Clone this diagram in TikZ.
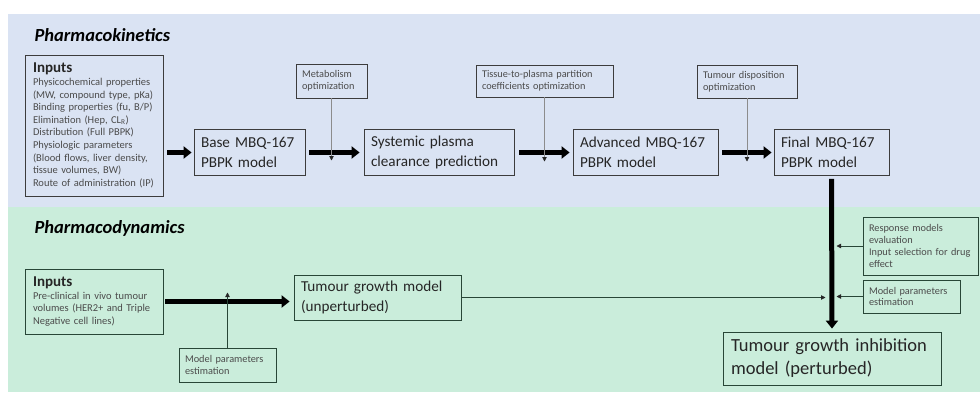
\documentclass[tikz,border=0pt]{standalone}
\usepackage{fontspec}
\setmainfont{Carlito}
\usepackage{tikz}
\usetikzlibrary{arrows.meta}
\usetikzlibrary{positioning}
\definecolor{pkblue}{RGB}{218,227,243}
\definecolor{pdgreen}{RGB}{202,237,219}
\definecolor{pkline}{RGB}{60,60,60}
\definecolor{pdline}{RGB}{40,70,55}
\definecolor{pkthin}{RGB}{140,140,140}
\definecolor{maintext}{RGB}{38,38,38}
\definecolor{subtext}{RGB}{75,75,75}

\begin{document}
\begin{tikzpicture}[x=1pt, y=-1pt,
    box/.style = {draw, line width=0.8pt, align=left, inner xsep=7pt, inner ysep=2pt,
                  text=maintext, font=\fontsize{15.2}{20}\selectfont},
    pkbox/.style = {box, draw=pkline},
    pdbox/.style = {box, draw=pdline},
    notebox/.style = {inner xsep=6pt, text=subtext, font=\fontsize{10.3}{11.8}\selectfont},
    inputbox/.style = {inner xsep=8pt, text=subtext, font=\fontsize{10.5}{12.6}\selectfont},
    title/.style = {anchor=west, text=black, font=\fontsize{18.5}{22}\selectfont\bfseries\itshape},
    bigarrow/.style = {line width=5pt, -{Triangle[length=8pt,width=12pt]}},
    thinarrow/.style = {line width=0.8pt, -{Triangle[length=4.5pt,width=4.5pt,color=black!85]}}]

    \useasboundingbox (0,0) rectangle (980,394);
    \fill[pkblue] (8,14) rectangle (980,207);
    \fill[pdgreen] (8,207) rectangle (980,392);

    % pharmacokinetics
    \node[title] (pktitle) at (31,35) {Pharmacokinetics};
    \node[pkbox, inputbox, text width=122pt, minimum height=141pt] (pkin) at (94,125.5)
        {{\fontsize{15}{18}\selectfont\bfseries\color{maintext}Inputs}\\
         Physicochemical properties\\
         (MW, compound type, pKa)\\
         Binding properties (fu, B/P)\\
         Elimination (Hep, CL\textsubscript{R})\\
         Distribution (Full PBPK)\\
         Physiologic parameters\\
         (Blood flows, liver density,\\
         tissue volumes, BW)\\
         Route of administration (IP)};
    \node[pkbox, text width=97pt, minimum height=46pt] (base) at (249.5,152.5)
        {Base MBQ-167\\PBPK model};
    \node[pkbox, text width=136pt, minimum height=46pt] (sys) at (439,152.5)
        {Systemic plasma\\clearance prediction};
    \node[pkbox, text width=131pt, minimum height=46pt] (adv) at (645.5,152.5)
        {Advanced MBQ-167\\PBPK model};
    \node[pkbox, text width=101pt, minimum height=46pt] (final) at (831.5,152.5)
        {Final MBQ-167\\PBPK model};
    \node[pkbox, notebox, text width=59pt, minimum height=34pt] (metab) at (331.5,81)
        {Metabolism\\optimization};
    \node[pkbox, notebox, text width=125pt, minimum height=32pt] (tissue) at (544.5,81)
        {Tissue-to-plasma partition\\coefficients optimization};
    \node[pkbox, notebox, text width=88pt, minimum height=33pt] (tumdisp) at (747,81.5)
        {Tumour disposition\\optimization};

    \draw[bigarrow, shorten <=4pt, shorten >=2pt] (pkin.east |- base.west) -- (base.west);
    \draw[bigarrow, shorten <=4pt, shorten >=4pt] (base.east) -- (sys.west);
    \draw[bigarrow, shorten <=5pt, shorten >=3pt] (sys.east) -- (adv.west);
    \draw[bigarrow, shorten <=4pt, shorten >=2pt] (adv.east) -- (final.west);
    \draw[thinarrow, pkthin] (metab.south) -- ([yshift=-8pt]metab.south |- base.east);
    \draw[thinarrow, pkthin] (tissue.south) -- ([yshift=-9pt]tissue.south |- adv.west);
    \draw[thinarrow, pkthin] (tumdisp.south) -- ([yshift=-9pt]tumdisp.south |- final.west);

    % pharmacodynamics
    \node[title] (pdtitle) at (31,228) {Pharmacodynamics};
    \node[pdbox, inputbox, text width=122pt, minimum height=65pt] (pdin) at (94,301.5)
        {{\fontsize{15}{18}\selectfont\bfseries\color{maintext}Inputs}\\
         Pre-clinical in vivo tumour\\
         volumes (HER2+ and Triple\\
         Negative cell lines)};
    \node[pdbox, text width=153pt, minimum height=45pt] (tgm) at (377.5,297.5)
        {Tumour growth model\\(unperturbed)};
    \node[pdbox, notebox, text width=85pt, minimum height=34pt] (mpeA) at (227.5,365)
        {Model parameters\\estimation};
    \node[pdbox, notebox, text width=103pt, minimum height=58pt] (resp) at (920.5,246)
        {Response models\\evaluation\\Input selection for drug\\effect};
    \node[pdbox, notebox, text width=85pt, minimum height=33pt] (mpeB) at (911.5,296.5)
        {Model parameters\\estimation};
    \node[pdbox, inner xsep=8pt, text width=202pt, minimum height=53pt, font=\fontsize{18.5}{23}\selectfont] (tgi) at (832,358.5)
        {Tumour growth inhibition\\model (perturbed)};

    \draw[bigarrow, shorten <=2pt, shorten >=4pt] (pdin.east) -- (pdin.east -| tgm.west);
    \draw[bigarrow, shorten <=3pt, shorten >=3pt] (final.south) -- (tgi.north);
    \draw[thinarrow, pdline] (mpeA.north) -- ([yshift=9pt]mpeA.north |- pdin.east);
    \draw[thinarrow, pdline] (tgm.east) -- ([xshift=-6pt]tgm.east -| final.south);
    \draw[thinarrow, pdline] (resp.west) -- ([xshift=5pt]resp.west -| final.south);
    \draw[thinarrow, pdline] (mpeB.west) -- ([xshift=5pt]mpeB.west -| final.south);
\end{tikzpicture}
\end{document}
